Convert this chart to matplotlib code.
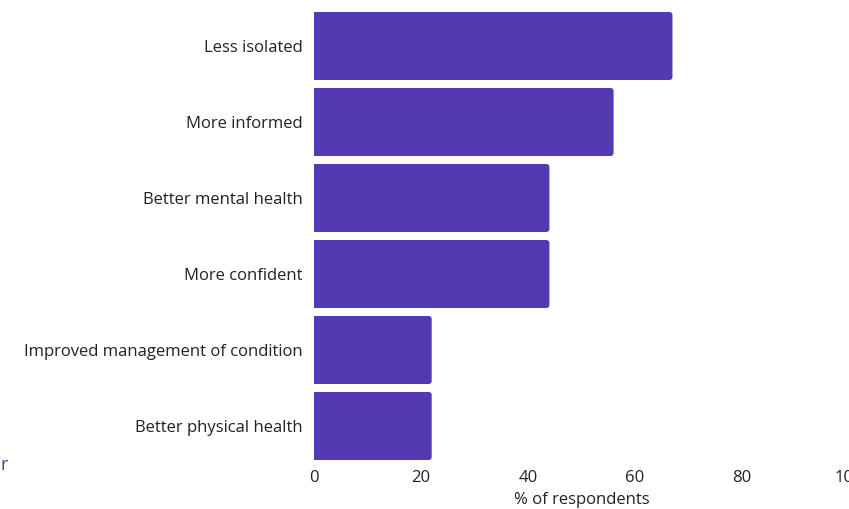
import matplotlib
matplotlib.use("Agg")
import matplotlib.pyplot as plt
from matplotlib.patches import FancyBboxPatch

# survey answers, top to bottom
categories = ["Less isolated", "More informed", "Better mental health",
              "More confident", "Improved management of condition",
              "Better physical health"]
values = [67, 56, 44, 44, 22, 22]
xticks = [0, 20, 40, 60, 80, 100]

purple = "#533AB3"
plt.rcParams['font.family'] = ['Open Sans', 'DejaVu Sans']

fig = plt.figure(figsize=(8.49, 5.09), dpi=100)
ax = fig.add_axes([314/849, 1 - 464/509, 535/849, 456/509])

y = list(range(len(categories)))
bars = ax.barh(y, values, height=0.895, color=purple)

# swap the plain bars for ones with rounded corners (left side hidden by the axes edge)
r = 0.6
for b in bars:
    b.set_visible(False)
    p = FancyBboxPatch((b.get_x() - r, b.get_y()), b.get_width() + r, b.get_height(),
                       boxstyle="round,pad=0,rounding_size=%g" % r,
                       mutation_aspect=0.04 / r, facecolor=purple, edgecolor="none")
    ax.add_patch(p)

ax.set_xlim(0, 100)
ax.set_ylim(len(categories) - 0.5, -0.5)
ax.set_yticks(y)
ax.set_yticklabels(categories, fontsize=12, color="#222222")
ax.set_xticks(xticks)
ax.set_xticklabels([str(t) for t in xticks], fontsize=12, color="#222222")
ax.tick_params(length=0)
ax.tick_params(axis="y", pad=8)
ax.tick_params(axis="x", pad=4)
ax.set_xlabel("% of respondents", fontsize=12, color="#222222", labelpad=5)
for s in ax.spines.values():
    s.set_visible(False)

# cut-off legend text at the left edge
fig.text(0.0, 1 - 470/509, "r", fontsize=13, color=purple, ha="left", va="baseline")

fig.savefig("out.png", dpi=100)
